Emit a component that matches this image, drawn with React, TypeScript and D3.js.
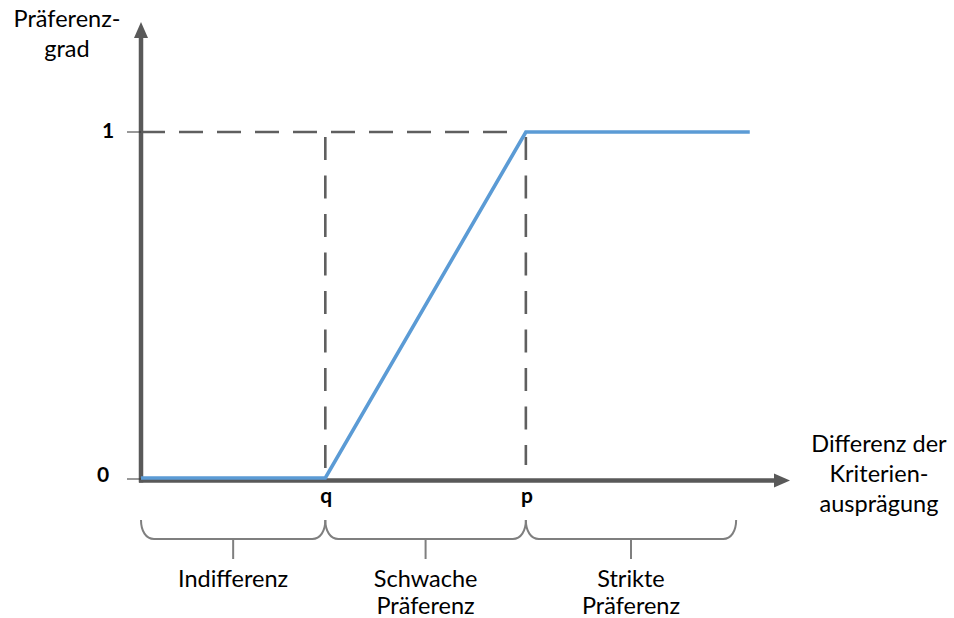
import React from "react";
import * as d3 from "d3";

// Data (abstract units on x: 0..100, y: 0..1)
const yTicks = [0, 1];
const yTickLabels = ["0", "1"];
const thresholds = [
  { key: "q", value: 28.4 },
  { key: "p", value: 59.3 },
];
const curveX = [0, 28.4, 59.3, 93.8];
const curveY = [0, 0, 1, 1];
const regionBounds = [0, 28.4, 59.3, 91.7];
const regionLabels = [["Indifferenz"], ["Schwache", "Präferenz"], ["Strikte", "Präferenz"]];
const yAxisTitle = ["Präferenz-", "grad"];
const xAxisTitle = ["Differenz der", "Kriterien-", "ausprägung"];

const W = 954;
const H = 618;
const FONT = "Lato, Calibri, Carlito, sans-serif";
const FS = 23.5;
const FSB = 21;

export default function App() {
  const x = d3.scaleLinear().domain([0, 100]).range([141, 790]);
  const y = d3.scaleLinear().domain([0, 1]).range([478, 132]);
  const axisY = 480.5;
  const axisColor = "#595959";

  const line = d3
    .line<number>()
    .x((_, i) => x(curveX[i]))
    .y((d) => y(d));

  const braceTop = 520;
  const braceBottom = 539;
  const bracePath = (x0: number, x1: number) =>
    `M${x0},${braceTop} C${x0},${braceBottom - 8} ${x0 + 5},${braceBottom} ${x0 + 13},${braceBottom} ` +
    `L${x1 - 13},${braceBottom} C${x1 - 5},${braceBottom} ${x1},${braceBottom - 8} ${x1},${braceTop}`;

  const xEnd = x(100);

  return (
    <svg width={W} height={H} style={{ position: "absolute", left: 0, top: 0, background: "#fff" }}>
      {/* dashed guides */}
      <line
        x1={x(0)}
        x2={x(thresholds[1].value) - 13}
        y1={y(1)}
        y2={y(1)}
        stroke="#5f5f5f"
        strokeWidth={2.6}
        strokeDasharray="24 14"
      />
      {thresholds.map((t) => (
        <line
          key={t.key}
          x1={x(t.value)}
          x2={x(t.value)}
          y1={y(1) + 5}
          y2={470 - (t.key === "p" ? 5 : 0)}
          stroke="#5f5f5f"
          strokeWidth={2.6}
          strokeDasharray="23 15.5"
        />
      ))}

      {/* axes */}
      <line x1={x(0)} x2={x(0)} y1={axisY + 2} y2={37} stroke={axisColor} strokeWidth={4.5} />
      <path d={`M${x(0)},22 L${x(0) - 7},38 L${x(0) + 7},38 Z`} fill={axisColor} />
      <line x1={x(0) - 2} x2={xEnd - 15} y1={axisY} y2={axisY} stroke={axisColor} strokeWidth={4.5} />
      <path d={`M${xEnd},${axisY} L${xEnd - 16},${axisY - 7} L${xEnd - 16},${axisY + 7} Z`} fill={axisColor} />

      {/* y ticks */}
      {yTicks.map((t, i) => (
        <g key={t}>
          <line x1={127} x2={x(0)} y1={y(t) + (t === 0 ? 1 : 0)} y2={y(t) + (t === 0 ? 1 : 0)} stroke="#333" strokeWidth={1} />
          <text
            x={t === 0 ? 103 : 108}
            y={t === 0 ? 482 : 138}
            textAnchor="middle"
            fontFamily={FONT}
            fontWeight="bold"
            fontSize={FSB}
            fill="#000"
          >
            {yTickLabels[i]}
          </text>
        </g>
      ))}

      {/* preference function */}
      <path
        d={line(curveY) || ""}
        fill="none"
        stroke="#5B9BD5"
        strokeWidth={3.6}
        strokeLinejoin="miter"
      />

      {/* threshold labels */}
      {thresholds.map((t) => (
        <text
          key={t.key}
          x={x(t.value) + 1}
          y={503}
          textAnchor="middle"
          fontFamily={FONT}
          fontWeight="bold"
          fontSize={FSB}
          fill="#000"
        >
          {t.key}
        </text>
      ))}

      {/* braces */}
      {regionLabels.map((lbl, i) => {
        const x0 = x(regionBounds[i]);
        const x1 = x(regionBounds[i + 1]);
        const xm = (x0 + x1) / 2;
        return (
          <g key={i}>
            <path d={bracePath(x0, x1)} fill="none" stroke="#7f7f7f" strokeWidth={2} />
            <line x1={xm} x2={xm} y1={braceBottom} y2={559} stroke="#7f7f7f" strokeWidth={2} />
            {lbl.map((s, j) => (
              <text
                key={j}
                x={xm}
                y={587 + j * 27}
                textAnchor="middle"
                fontFamily={FONT}
                fontSize={FS}
                fill="#000"
              >
                {s}
              </text>
            ))}
          </g>
        );
      })}

      {/* axis titles */}
      {yAxisTitle.map((s, j) => (
        <text key={j} x={67} y={27 + j * 30} textAnchor="middle" fontFamily={FONT} fontSize={FS} fill="#000">
          {s}
        </text>
      ))}
      {xAxisTitle.map((s, j) => (
        <text key={j} x={879} y={452 + j * 30} textAnchor="middle" fontFamily={FONT} fontSize={FS} fill="#000">
          {s}
        </text>
      ))}
    </svg>
  );
}
